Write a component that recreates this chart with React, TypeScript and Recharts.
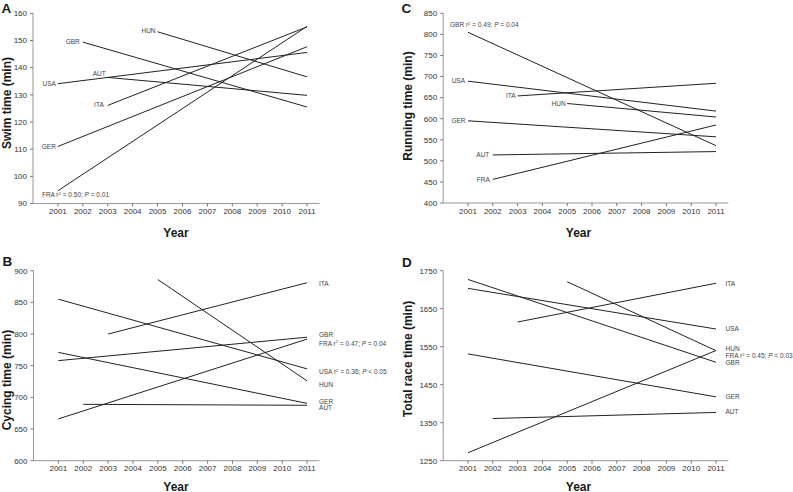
import React from 'react';
import { LineChart, Line, XAxis, YAxis } from 'recharts';

const YEAR_TICKS = [2001, 2002, 2003, 2004, 2005, 2006, 2007, 2008, 2009, 2010, 2011];
const LAST_YEAR = 2011;
const FONT = '"Liberation Sans", Arial, sans-serif';

// A - swim
const swimNations = ['HUN', 'GBR', 'USA', 'AUT', 'ITA', 'GER', 'FRA'];
const swimFrom = [2005, 2002, 2001, 2003, 2003, 2001, 2001];
const swimFirst = [153.2, 149.4, 134.1, 136.4, 126.1, 111.0, 94.7];
const swimLast = [136.6, 125.5, 145.6, 129.8, 155.0, 147.7, 155.2];
const swimTicks = [90, 100, 110, 120, 130, 140, 150, 160];
const swimStats = [null, null, null, null, null, null, ['0.50', '=', '0.01']];

// C - running
const runNations = ['GBR', 'USA', 'ITA', 'HUN', 'GER', 'AUT', 'FRA'];
const runFrom = [2001, 2001, 2003, 2005, 2001, 2002, 2002];
const runFirst = [805, 689, 654, 636, 595, 514, 456];
const runLast = [536, 618, 684, 604, 557, 522, 585];
const runTicks = [400, 450, 500, 550, 600, 650, 700, 750, 800, 850];
const runStats = [['0.49', '=', '0.04'], null, null, null, null, null, null];

// B - cycling
const cycNations = ['ITA', 'HUN', 'USA', 'GBR', 'FRA', 'GER', 'AUT'];
const cycFrom = [2003, 2005, 2001, 2001, 2001, 2001, 2002];
const cycFirst = [800, 886, 855, 758, 666, 771, 689];
const cycLast = [881, 726, 745, 795, 792, 690.5, 687.5];
const cycTicks = [600, 650, 700, 750, 800, 850, 900];
const cycStats = [null, null, ['0.36', '<', '0.05'], null, ['0.47', '=', '0.04'], null, null];

// D - total race
const totNations = ['ITA', 'USA', 'GBR', 'HUN', 'FRA', 'GER', 'AUT'];
const totFrom = [2003, 2001, 2001, 2005, 2001, 2001, 2002];
const totFirst = [1615, 1703.5, 1727, 1721, 1271, 1531, 1361];
const totLast = [1717, 1596.5, 1509, 1539.5, 1540, 1418, 1377];
const totTicks = [1250, 1350, 1450, 1550, 1650, 1750];
const totStats = [null, null, null, null, ['0.45', '=', '0.03'], null, null];

// label placement: [side, dx, dy, anchor]
type Place = [string, number, number, string];
const swimPlace: Place[] = [
  ['start', -2, -1, 'end'], ['start', -3, 0, 'end'], ['start', -2, 0, 'end'],
  ['start', -2, -4, 'end'], ['start', -4, -0.7, 'end'], ['start', -2, 0, 'end'],
  ['start', -16, 4.3, 'start'],
];
const runPlace: Place[] = [
  ['start', -18, -7.3, 'start'], ['start', -3, 0, 'end'], ['start', -2, 0, 'end'],
  ['start', -1.5, -0.3, 'end'], ['start', -2.5, 0, 'end'], ['start', -3.5, 0, 'end'],
  ['start', -3, 0.5, 'end'],
];
const cycPlace: Place[] = [
  ['end', 12, 0.6, 'start'], ['end', 12, 3.4, 'start'], ['end', 12, 2.8, 'start'],
  ['end', 12, -2.5, 'start'], ['end', 12, 4.3, 'start'], ['end', 12, -2.1, 'start'],
  ['end', 12, 2.4, 'start'],
];
const totPlace: Place[] = [
  ['end', 9.5, 0, 'start'], ['end', 9.5, 0, 'start'], ['end', 9.5, 0.4, 'start'],
  ['end', 9.5, -2.4, 'start'], ['end', 9.5, 5, 'start'], ['end', 9.5, -0.5, 'start'],
  ['end', 9.5, -0.8, 'start'],
];

const buildRows = (nations: string[], from: number[], first: number[], last: number[]) =>
  YEAR_TICKS.map((year) => {
    const row: any = { year };
    nations.forEach((n, i) => {
      if (year === from[i]) row[n] = first[i];
      else if (year === LAST_YEAR) row[n] = last[i];
    });
    return row;
  });

function labelDot(id: string, nation: string, from: number, place: Place, stats: any) {
  return (props: any) => {
    const { cx, cy, payload } = props;
    const year = payload ? payload.year : null;
    const key = `lbl-${id}-${nation}-${year}`;
    const at = place[0] === 'start' ? from : LAST_YEAR;
    if (cx == null || cy == null || year !== at) return <g key={key} />;
    return (
      <text
        key={key}
        x={cx + place[1]}
        y={cy + place[2] + 2.3}
        textAnchor={place[3]}
        fontSize={6.5}
        fill="#444"
        fontFamily={FONT}
      >
        {nation}
        {stats && (
          <>
            {' r'}
            <tspan dy={-2.3} fontSize={4.3}>2</tspan>
            <tspan dy={2.3}>{` = ${stats[0]}; `}</tspan>
            <tspan fontStyle="italic">P</tspan>
            {` ${stats[1]} ${stats[2]}`}
          </>
        )}
      </text>
    );
  };
}

interface PanelProps {
  id: string;
  left: number;
  top: number;
  width: number;
  height: number;
  margin: { top: number; right: number; bottom: number; left: number };
  yWidth: number;
  nations: string[];
  from: number[];
  first: number[];
  last: number[];
  ticks: number[];
  stats: any[];
  place: Place[];
}

function Panel(p: PanelProps) {
  const rows = buildRows(p.nations, p.from, p.first, p.last);
  const tickStyle = { fontSize: 8, fill: '#333', fontFamily: FONT };
  return (
    <div style={{ position: 'absolute', left: p.left, top: p.top }}>
      <LineChart width={p.width} height={p.height} data={rows} margin={p.margin}>
        <XAxis
          dataKey="year"
          type="number"
          domain={[2000, 2011.5]}
          ticks={YEAR_TICKS}
          interval={0}
          height={20}
          tickSize={3}
          tickMargin={2}
          stroke="#999"
          tickLine={{ stroke: '#777' }}
          tick={tickStyle}
        />
        <YAxis
          type="number"
          domain={[p.ticks[0], p.ticks[p.ticks.length - 1]]}
          ticks={p.ticks}
          interval={0}
          width={p.yWidth}
          tickSize={3}
          tickMargin={3}
          stroke="#999"
          tickLine={{ stroke: '#777' }}
          tick={tickStyle}
        />
        {p.nations.map((n, i) => (
          <Line
            key={n}
            dataKey={n}
            type="linear"
            stroke="#222"
            strokeWidth={1}
            connectNulls
            isAnimationActive={false}
            activeDot={false}
            dot={labelDot(p.id, n, p.from[i], p.place[i], p.stats[i])}
          />
        ))}
      </LineChart>
    </div>
  );
}

const titles = [
  { letter: 'A', lx: 1.5, ly: 12.5, yTitle: 'Swim time (min)', tx: 11, ty: 103, yearX: 176, yearY: 236.5 },
  { letter: 'C', lx: 401.5, ly: 12.5, yTitle: 'Running time (min)', tx: 411.5, ty: 106, yearX: 578.5, yearY: 236.5 },
  { letter: 'B', lx: 2.5, ly: 266, yTitle: 'Cycing time (min)', tx: 11, ty: 380, yearX: 176, yearY: 490.5 },
  { letter: 'D', lx: 402, ly: 267, yTitle: 'Total race time (min)', tx: 411.5, ty: 359, yearX: 578.5, yearY: 490.5 },
];

export default function App() {
  return (
    <div style={{ position: 'absolute', left: 0, top: 0, width: 793, height: 492, background: '#fff', overflow: 'hidden' }}>
      <Panel
        id="swim" left={0} top={0} width={400} height={245}
        margin={{ top: 13.3, right: 80.5, bottom: 21.5, left: 0 }} yWidth={33}
        nations={swimNations} from={swimFrom} first={swimFirst} last={swimLast}
        ticks={swimTicks} stats={swimStats} place={swimPlace}
      />
      <Panel
        id="run" left={396} top={0} width={397} height={245}
        margin={{ top: 13.3, right: 64.6, bottom: 22, left: 0 }} yWidth={47.2}
        nations={runNations} from={runFrom} first={runFirst} last={runLast}
        ticks={runTicks} stats={runStats} place={runPlace}
      />
      <Panel
        id="cyc" left={0} top={245} width={400} height={247}
        margin={{ top: 25.7, right: 80.5, bottom: 11.3, left: 0 }} yWidth={33.5}
        nations={cycNations} from={cycFrom} first={cycFirst} last={cycLast}
        ticks={cycTicks} stats={cycStats} place={cycPlace}
      />
      <Panel
        id="tot" left={396} top={245} width={397} height={247}
        margin={{ top: 25.7, right: 64.6, bottom: 11.3, left: 0 }} yWidth={47.2}
        nations={totNations} from={totFrom} first={totFirst} last={totLast}
        ticks={totTicks} stats={totStats} place={totPlace}
      />
      <svg width={793} height={492} style={{ position: 'absolute', left: 0, top: 0, pointerEvents: 'none' }}>
        {titles.map((t) => (
          <g key={t.letter} fontFamily={FONT} fontWeight="bold" fill="#1a1a1a">
            <text x={t.lx} y={t.ly} fontSize={13.5}>{t.letter}</text>
            <text transform={`translate(${t.tx},${t.ty}) rotate(-90)`} textAnchor="middle" fontSize={12}>
              {t.yTitle}
            </text>
            <text x={t.yearX} y={t.yearY} textAnchor="middle" fontSize={12}>Year</text>
          </g>
        ))}
      </svg>
    </div>
  );
}
